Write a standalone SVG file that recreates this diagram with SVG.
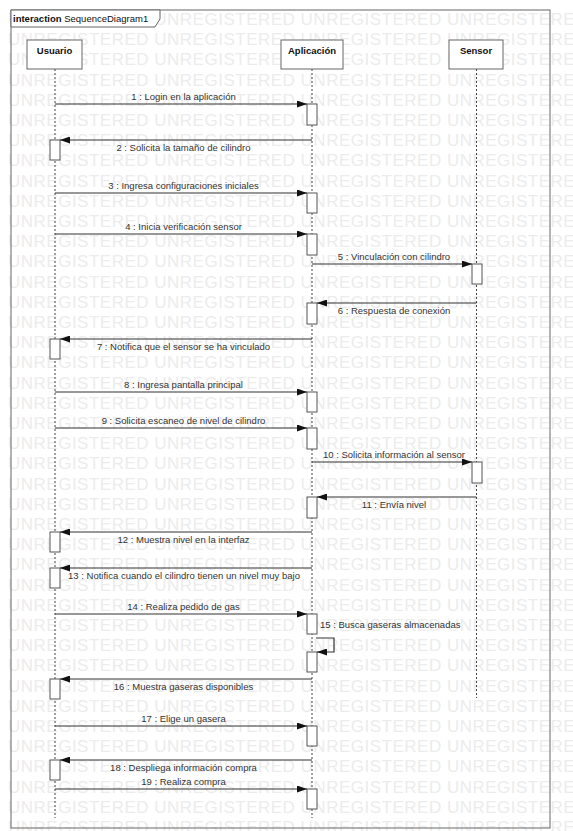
<svg xmlns="http://www.w3.org/2000/svg" width="573" height="831" viewBox="0 0 573 831">
<style>
.wm{font-family:"Liberation Sans",Arial,sans-serif;font-size:17px;letter-spacing:0.5px;fill:#ececec}
.lbl{font-family:"Liberation Sans",Arial,sans-serif;font-size:9.5px;fill:#333}
.mid{text-anchor:middle}
.name{font-family:"Liberation Sans",Arial,sans-serif;font-size:9.5px;font-weight:bold;fill:#111;text-anchor:middle}
.head{fill:#fff;stroke:#666;stroke-width:1}
.life{stroke:#444;stroke-width:1;stroke-dasharray:2,2;fill:none}
.act{fill:#fff;stroke:#555;stroke-width:1}
.msg{stroke:#333;stroke-width:1.2;fill:none;marker-end:url(#arr)}
</style>
<defs>
<marker id="arr" markerWidth="10" markerHeight="7" refX="10" refY="3.5" orient="auto" markerUnits="userSpaceOnUse"><path d="M0,0 L10,3.5 L0,7 z" fill="#111"/></marker>
</defs>
<rect width="573" height="831" fill="#fff"/>
<g id="watermark">
<text class="wm" x="8" y="25">UNREGISTERED UNREGISTERED UNREGISTERED UNREGISTERED</text>
<text class="wm" x="8" y="45.2">UNREGISTERED UNREGISTERED UNREGISTERED UNREGISTERED</text>
<text class="wm" x="8" y="65.4">UNREGISTERED UNREGISTERED UNREGISTERED UNREGISTERED</text>
<text class="wm" x="8" y="85.6">UNREGISTERED UNREGISTERED UNREGISTERED UNREGISTERED</text>
<text class="wm" x="8" y="105.8">UNREGISTERED UNREGISTERED UNREGISTERED UNREGISTERED</text>
<text class="wm" x="8" y="126">UNREGISTERED UNREGISTERED UNREGISTERED UNREGISTERED</text>
<text class="wm" x="8" y="146.2">UNREGISTERED UNREGISTERED UNREGISTERED UNREGISTERED</text>
<text class="wm" x="8" y="166.4">UNREGISTERED UNREGISTERED UNREGISTERED UNREGISTERED</text>
<text class="wm" x="8" y="186.6">UNREGISTERED UNREGISTERED UNREGISTERED UNREGISTERED</text>
<text class="wm" x="8" y="206.8">UNREGISTERED UNREGISTERED UNREGISTERED UNREGISTERED</text>
<text class="wm" x="8" y="227">UNREGISTERED UNREGISTERED UNREGISTERED UNREGISTERED</text>
<text class="wm" x="8" y="247.2">UNREGISTERED UNREGISTERED UNREGISTERED UNREGISTERED</text>
<text class="wm" x="8" y="267.4">UNREGISTERED UNREGISTERED UNREGISTERED UNREGISTERED</text>
<text class="wm" x="8" y="287.6">UNREGISTERED UNREGISTERED UNREGISTERED UNREGISTERED</text>
<text class="wm" x="8" y="307.8">UNREGISTERED UNREGISTERED UNREGISTERED UNREGISTERED</text>
<text class="wm" x="8" y="328">UNREGISTERED UNREGISTERED UNREGISTERED UNREGISTERED</text>
<text class="wm" x="8" y="348.2">UNREGISTERED UNREGISTERED UNREGISTERED UNREGISTERED</text>
<text class="wm" x="8" y="368.4">UNREGISTERED UNREGISTERED UNREGISTERED UNREGISTERED</text>
<text class="wm" x="8" y="388.6">UNREGISTERED UNREGISTERED UNREGISTERED UNREGISTERED</text>
<text class="wm" x="8" y="408.8">UNREGISTERED UNREGISTERED UNREGISTERED UNREGISTERED</text>
<text class="wm" x="8" y="429">UNREGISTERED UNREGISTERED UNREGISTERED UNREGISTERED</text>
<text class="wm" x="8" y="449.2">UNREGISTERED UNREGISTERED UNREGISTERED UNREGISTERED</text>
<text class="wm" x="8" y="469.4">UNREGISTERED UNREGISTERED UNREGISTERED UNREGISTERED</text>
<text class="wm" x="8" y="489.6">UNREGISTERED UNREGISTERED UNREGISTERED UNREGISTERED</text>
<text class="wm" x="8" y="509.8">UNREGISTERED UNREGISTERED UNREGISTERED UNREGISTERED</text>
<text class="wm" x="8" y="530">UNREGISTERED UNREGISTERED UNREGISTERED UNREGISTERED</text>
<text class="wm" x="8" y="550.2">UNREGISTERED UNREGISTERED UNREGISTERED UNREGISTERED</text>
<text class="wm" x="8" y="570.4">UNREGISTERED UNREGISTERED UNREGISTERED UNREGISTERED</text>
<text class="wm" x="8" y="590.6">UNREGISTERED UNREGISTERED UNREGISTERED UNREGISTERED</text>
<text class="wm" x="8" y="610.8">UNREGISTERED UNREGISTERED UNREGISTERED UNREGISTERED</text>
<text class="wm" x="8" y="631">UNREGISTERED UNREGISTERED UNREGISTERED UNREGISTERED</text>
<text class="wm" x="8" y="651.2">UNREGISTERED UNREGISTERED UNREGISTERED UNREGISTERED</text>
<text class="wm" x="8" y="671.4">UNREGISTERED UNREGISTERED UNREGISTERED UNREGISTERED</text>
<text class="wm" x="8" y="691.6">UNREGISTERED UNREGISTERED UNREGISTERED UNREGISTERED</text>
<text class="wm" x="8" y="711.8">UNREGISTERED UNREGISTERED UNREGISTERED UNREGISTERED</text>
<text class="wm" x="8" y="732">UNREGISTERED UNREGISTERED UNREGISTERED UNREGISTERED</text>
<text class="wm" x="8" y="752.2">UNREGISTERED UNREGISTERED UNREGISTERED UNREGISTERED</text>
<text class="wm" x="8" y="772.4">UNREGISTERED UNREGISTERED UNREGISTERED UNREGISTERED</text>
<text class="wm" x="8" y="792.6">UNREGISTERED UNREGISTERED UNREGISTERED UNREGISTERED</text>
<text class="wm" x="8" y="812.8">UNREGISTERED UNREGISTERED UNREGISTERED UNREGISTERED</text>
<text class="wm" x="8" y="833">UNREGISTERED UNREGISTERED UNREGISTERED UNREGISTERED</text>
</g>
<g id="frame">
<rect x="11" y="10" width="539" height="818" fill="none" stroke="#666" stroke-width="1"/>
<polygon points="11,10 160,10 160,19 155,27 11,27" fill="#fff" stroke="#666" stroke-width="1"/>
<text class="lbl" x="13" y="22" style="fill:#111"><tspan font-weight="bold">interaction</tspan> SequenceDiagram1</text>
</g>
<g id="lifelines">
<line class="life" x1="55" y1="69" x2="55" y2="818"/>
<line class="life" x1="312" y1="69" x2="312" y2="818"/>
<line class="life" x1="476.5" y1="69" x2="476.5" y2="698"/>
</g>
<g id="Usuario">
<rect class="head" x="27" y="40" width="55" height="29"/>
<text class="name" x="54.5" y="53.5">Usuario</text>
</g>
<g id="Aplicacion">
<rect class="head" x="281" y="40" width="62" height="29"/>
<text class="name" x="312" y="53.5">Aplicación</text>
</g>
<g id="Sensor">
<rect class="head" x="449" y="40" width="54" height="29"/>
<text class="name" x="476" y="53.5">Sensor</text>
</g>
<g id="activations">
<rect class="act" x="307" y="104" width="10" height="21"/>
<rect class="act" x="50" y="140" width="10" height="20"/>
<rect class="act" x="307" y="193" width="10" height="20"/>
<rect class="act" x="307" y="234" width="10" height="21"/>
<rect class="act" x="472" y="264" width="10" height="20"/>
<rect class="act" x="307" y="303" width="10" height="21"/>
<rect class="act" x="50" y="339" width="10" height="20"/>
<rect class="act" x="307" y="392" width="10" height="20"/>
<rect class="act" x="307" y="428" width="10" height="21"/>
<rect class="act" x="472" y="462" width="10" height="21"/>
<rect class="act" x="307" y="497" width="10" height="21"/>
<rect class="act" x="50" y="532" width="10" height="20"/>
<rect class="act" x="50" y="568" width="10" height="20"/>
<rect class="act" x="307" y="614" width="10" height="20"/>
<rect class="act" x="307" y="652" width="10" height="20"/>
<rect class="act" x="50" y="679" width="10" height="20"/>
<rect class="act" x="307" y="726" width="10" height="20"/>
<rect class="act" x="50" y="760" width="10" height="20"/>
<rect class="act" x="307" y="789" width="10" height="20"/>
</g>
<g id="connectors">
<line class="msg" x1="55" y1="104" x2="307" y2="104"/>
<line class="msg" x1="312" y1="140" x2="60" y2="140"/>
<line class="msg" x1="55" y1="193" x2="307" y2="193"/>
<line class="msg" x1="55" y1="234" x2="307" y2="234"/>
<line class="msg" x1="312" y1="264" x2="472" y2="264"/>
<line class="msg" x1="476.5" y1="303" x2="317" y2="303"/>
<line class="msg" x1="312" y1="339" x2="60" y2="339"/>
<line class="msg" x1="55" y1="392" x2="307" y2="392"/>
<line class="msg" x1="55" y1="428" x2="307" y2="428"/>
<line class="msg" x1="312" y1="462" x2="472" y2="462"/>
<line class="msg" x1="476.5" y1="497" x2="317" y2="497"/>
<line class="msg" x1="312" y1="532" x2="60" y2="532"/>
<line class="msg" x1="312" y1="568" x2="60" y2="568"/>
<line class="msg" x1="55" y1="614" x2="307" y2="614"/>
<path class="msg" d="M316,638 H334 V652 H317"/>
<line class="msg" x1="312" y1="679" x2="60" y2="679"/>
<line class="msg" x1="55" y1="726" x2="307" y2="726"/>
<line class="msg" x1="312" y1="760" x2="60" y2="760"/>
<line class="msg" x1="55" y1="789" x2="307" y2="789"/>
</g>
<g id="labels">
<text class="lbl mid" x="183.5" y="100">1 : Login en la aplicación</text>
<text class="lbl mid" x="183.5" y="151">2 : Solicita la tamaño de cilindro</text>
<text class="lbl mid" x="183.5" y="189">3 : Ingresa configuraciones iniciales</text>
<text class="lbl mid" x="183.5" y="230">4 : Inicia verificación sensor</text>
<text class="lbl mid" x="394" y="260">5 : Vinculación con cilindro</text>
<text class="lbl mid" x="394" y="314">6 : Respuesta de conexión</text>
<text class="lbl mid" x="183.5" y="350">7 : Notifica que el sensor se ha vinculado</text>
<text class="lbl mid" x="183.5" y="388">8 : Ingresa pantalla principal</text>
<text class="lbl mid" x="183.5" y="424">9 : Solicita escaneo de nivel de cilindro</text>
<text class="lbl mid" x="394" y="458">10 : Solicita información al sensor</text>
<text class="lbl mid" x="394" y="508">11 : Envía nivel</text>
<text class="lbl mid" x="183.5" y="543">12 : Muestra nivel en la interfaz</text>
<text class="lbl mid" x="184" y="579">13 : Notifica cuando el cilindro tienen un nivel muy bajo</text>
<text class="lbl mid" x="183.5" y="610">14 : Realiza pedido de gas</text>
<text class="lbl" x="320" y="628">15 : Busca gaseras almacenadas</text>
<text class="lbl mid" x="183.5" y="690">16 : Muestra gaseras disponibles</text>
<text class="lbl mid" x="183.5" y="722">17 : Elige un gasera</text>
<text class="lbl mid" x="183.5" y="771">18 : Despliega información compra</text>
<text class="lbl mid" x="183.5" y="785">19 : Realiza compra</text>
</g>
</svg>
